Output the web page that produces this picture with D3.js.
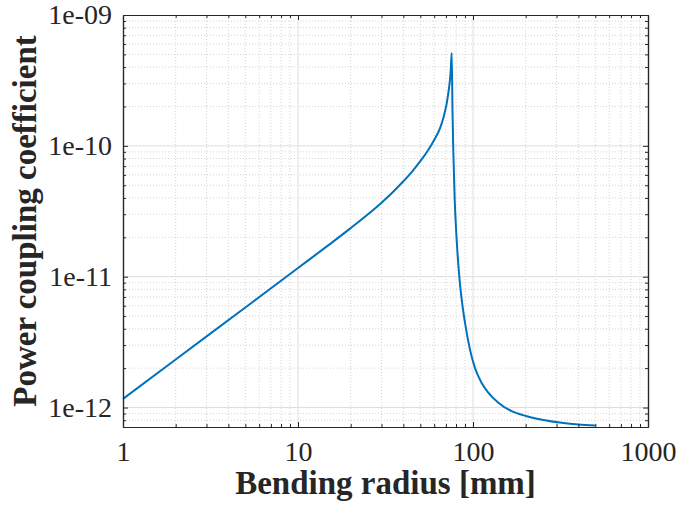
<!DOCTYPE html>
<html>
<head>
<meta charset="utf-8">
<script src="https://cdn.jsdelivr.net/npm/d3@7"></script>
<style>
  html, body { margin: 0; padding: 0; background: #ffffff; }
  svg { display: block; }
  text { font-family: "Liberation Serif", "Times New Roman", serif; fill: #262626; }
</style>
</head>
<body>
<svg id="chart" width="678" height="511"></svg>
<script>
// Bending radius in mm
const radius = [1, 2, 5, 10, 15, 20, 25, 30, 35, 40, 45, 50, 55, 60, 65, 68, 70.8, 73, 74.5, 75.55,
                76.35, 77.15, 78.6, 80.7, 83.5, 86.2, 90, 96.1, 102.7, 112.1, 122.3,
                139.6, 166.3, 202.9, 257.8, 321, 400, 500];
// Power coupling coefficient at each radius
const coupling = [1.165e-12, 2.33e-12, 5.82e-12, 1.165e-11, 1.75e-11, 2.35e-11, 2.985e-11, 3.68e-11,
                  4.46e-11, 5.36e-11, 6.39e-11, 7.63e-11, 9.14e-11, 1.11e-10, 1.38e-10, 1.67e-10, 2.12e-10,
                  2.8e-10, 3.64e-10, 5.13e-10,
                  1.88e-10, 9.31e-11, 3.87e-11, 1.9e-11, 1.0e-11, 6.67e-12, 4.45e-12, 2.77e-12,
                  2.0e-12, 1.54e-12, 1.30e-12, 1.09e-12, 9.38e-13, 8.59e-13, 8.0e-13,
                  7.64e-13, 7.41e-13, 7.29e-13];

const xTicks = [1, 10, 100, 1000];
const xTickLabels = ["1", "10", "100", "1000"];
const yTicks = [1e-12, 1e-11, 1e-10, 1e-9];
const yTickLabels = ["1e-12", "1e-11", "1e-10", "1e-09"];
const xLabel = "Bending radius [mm]";
const yLabel = "Power coupling coefficient";

const plotL = 123, plotR = 648, plotT = 15, plotB = 427;
const svg = d3.select("#chart");

const x = d3.scaleLog().domain([1, 1000]).range([plotL, plotR]);
const y = d3.scaleLog().domain([7.1e-13, 1e-9]).range([plotB, plotT]);

// minor positions: 2..9 within each decade, kept inside the domain
function minors(scale) {
  const [a, b] = scale.domain();
  const out = [];
  for (let e = Math.floor(Math.log10(a)); e < Math.ceil(Math.log10(b)); e++) {
    for (let m = 2; m <= 9; m++) {
      const v = m * Math.pow(10, e);
      if (v > a * 1.0001 && v < b * 0.9999) out.push(v);
    }
  }
  return out;
}
const xMinor = minors(x);
const yMinor = minors(y);

// grid
const grid = svg.append("g");
grid.selectAll(".xm").data(xMinor).join("line")
  .attr("x1", d => x(d)).attr("x2", d => x(d)).attr("y1", plotT).attr("y2", plotB)
  .attr("stroke", "#d4d4d4").attr("stroke-width", 1).attr("stroke-dasharray", "1,2");
grid.selectAll(".ym").data(yMinor).join("line")
  .attr("y1", d => y(d)).attr("y2", d => y(d)).attr("x1", plotL).attr("x2", plotR)
  .attr("stroke", "#d4d4d4").attr("stroke-width", 1).attr("stroke-dasharray", "1,2");
grid.selectAll(".xM").data(xTicks.filter(d => d > 1 && d < 1000)).join("line")
  .attr("x1", d => x(d)).attr("x2", d => x(d)).attr("y1", plotT).attr("y2", plotB)
  .attr("stroke", "#dedede").attr("stroke-width", 1);
grid.selectAll(".yM").data(yTicks.filter(d => d < 1e-9)).join("line")
  .attr("y1", d => y(d)).attr("y2", d => y(d)).attr("x1", plotL).attr("x2", plotR)
  .attr("stroke", "#dedede").attr("stroke-width", 1);

// data line
const pts = radius.map((r, i) => [r, coupling[i]]);
svg.append("path")
  .datum(pts)
  .attr("fill", "none")
  .attr("stroke", "#0072BD")
  .attr("stroke-width", 2)
  .attr("stroke-linejoin", "round")
  .attr("d", d3.line().x(d => x(d[0])).y(d => y(d[1])).curve(d3.curveMonotoneX));

// axes with inward ticks on all four sides
function styleAxis(g) {
  g.selectAll("path.domain").attr("stroke", "#262626").attr("stroke-width", 1.2);
  g.selectAll(".tick line").attr("stroke", "#262626").attr("stroke-width", 1);
  g.selectAll(".tick text").attr("font-size", 28).attr("fill", "#262626")
    .style("font-family", "'Liberation Serif', serif");
}

const xl = new Map(xTicks.map((v, i) => [v, xTickLabels[i]]));
const yl = new Map(yTicks.map((v, i) => [v, yTickLabels[i]]));

svg.append("g").attr("transform", `translate(0,${plotB})`)
  .call(d3.axisBottom(x).tickValues(xMinor).tickFormat("").tickSize(-3).tickSizeOuter(0))
  .call(styleAxis);
svg.append("g").attr("transform", `translate(0,${plotB})`)
  .call(d3.axisBottom(x).tickValues(xTicks).tickFormat(d => xl.get(d)).tickSize(-5).tickSizeOuter(0).tickPadding(14))
  .call(styleAxis);
svg.append("g").attr("transform", `translate(0,${plotT})`)
  .call(d3.axisTop(x).tickValues(xMinor).tickFormat("").tickSize(-3).tickSizeOuter(0))
  .call(styleAxis);
svg.append("g").attr("transform", `translate(0,${plotT})`)
  .call(d3.axisTop(x).tickValues(xTicks).tickFormat("").tickSize(-5).tickSizeOuter(0))
  .call(styleAxis);

svg.append("g").attr("transform", `translate(${plotL},0)`)
  .call(d3.axisLeft(y).tickValues(yMinor).tickFormat("").tickSize(-3).tickSizeOuter(0))
  .call(styleAxis);
svg.append("g").attr("transform", `translate(${plotL},0)`)
  .call(d3.axisLeft(y).tickValues(yTicks).tickFormat(d => yl.get(d)).tickSize(-5).tickSizeOuter(0).tickPadding(11))
  .call(styleAxis);
svg.append("g").attr("transform", `translate(${plotR},0)`)
  .call(d3.axisRight(y).tickValues(yMinor).tickFormat("").tickSize(-3).tickSizeOuter(0))
  .call(styleAxis);
svg.append("g").attr("transform", `translate(${plotR},0)`)
  .call(d3.axisRight(y).tickValues(yTicks).tickFormat("").tickSize(-5).tickSizeOuter(0))
  .call(styleAxis);

// axis titles
svg.append("text")
  .attr("x", (plotL + plotR) / 2).attr("y", 494)
  .attr("text-anchor", "middle").attr("font-size", 33).attr("font-weight", "bold")
  .text(xLabel);
svg.append("text")
  .attr("transform", `translate(36,${(plotT + plotB) / 2}) rotate(-90)`)
  .attr("text-anchor", "middle").attr("font-size", 33).attr("font-weight", "bold")
  .text(yLabel);
</script>
</body>
</html>
